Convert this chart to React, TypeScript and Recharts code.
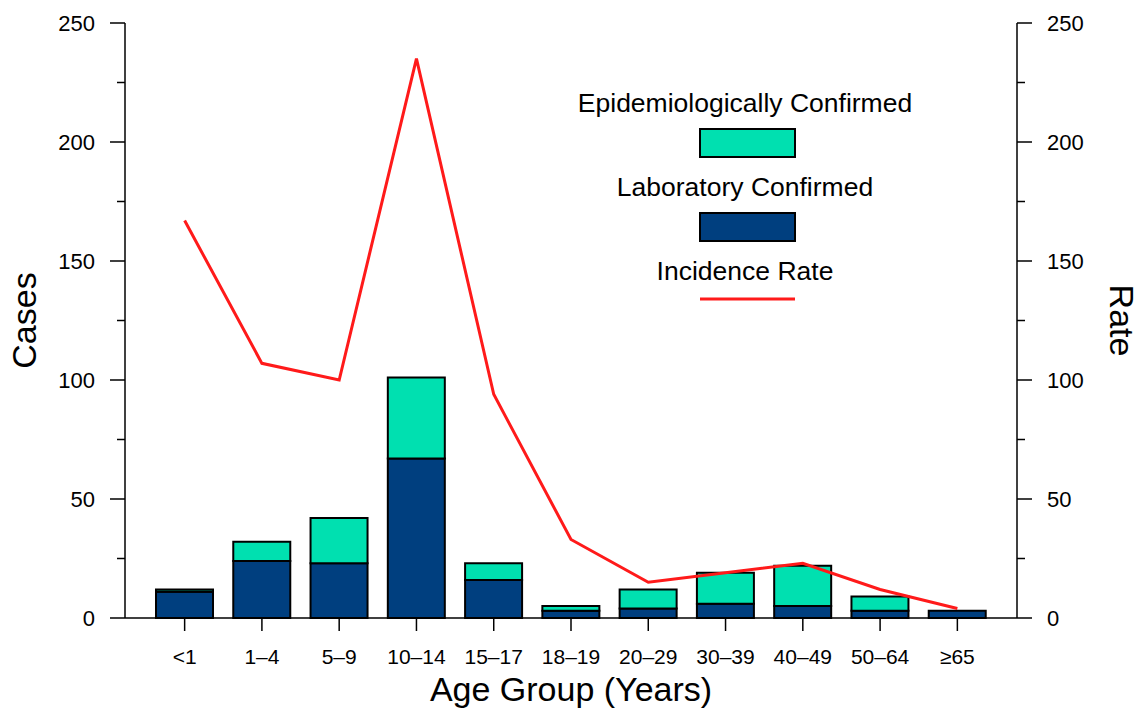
import { Bar, ComposedChart, Label, Legend, Line, XAxis, YAxis } from 'recharts';

const ageGroups = ['<1', '1–4', '5–9', '10–14', '15–17', '18–19', '20–29', '30–39', '40–49', '50–64', '≥65'];
const labConfirmed = [11, 24, 23, 67, 16, 3, 4, 6, 5, 3, 3];
const epiConfirmed = [1, 8, 19, 34, 7, 2, 8, 13, 17, 6, 0];
const incidenceRate = [167, 107, 100, 235, 94, 33, 15, 19, 23, 12, 4];
const axisTicks = [0, 25, 50, 75, 100, 125, 150, 175, 200, 225, 250];
const legendOrder = ['Epidemiologically Confirmed', 'Laboratory Confirmed', 'Incidence Rate'];

const data = ageGroups.map((group, i) => ({
  group,
  lab: labConfirmed[i],
  epi: epiConfirmed[i],
  rate: incidenceRate[i],
}));

const FONT = '"Liberation Sans", Arial, sans-serif';
const TEAL = '#00E0B0';
const NAVY = '#003F7F';
const RED = '#FF1A1A';

const LeftTick = (props: any) => {
  const { x, y, payload } = props;
  const major = payload.value % 50 === 0;
  return (
    <g>
      <line x1={x - (major ? 15 : 8)} x2={x} y1={y} y2={y} stroke="#000" strokeWidth={1.5} />
      {major && (
        <text x={x - 30} y={y} dy="0.36em" textAnchor="end" fontSize={22} fontFamily={FONT} fill="#000">
          {payload.value}
        </text>
      )}
    </g>
  );
};

const RightTick = (props: any) => {
  const { x, y, payload } = props;
  const major = payload.value % 50 === 0;
  return (
    <g>
      <line x1={x} x2={x + (major ? 15 : 8)} y1={y} y2={y} stroke="#000" strokeWidth={1.5} />
      {major && (
        <text x={x + 30} y={y} dy="0.36em" textAnchor="start" fontSize={22} fontFamily={FONT} fill="#000">
          {payload.value}
        </text>
      )}
    </g>
  );
};

const BottomTick = (props: any) => {
  const { x, y, payload } = props;
  return (
    <g>
      <line x1={x} x2={x} y1={y} y2={y + 13} stroke="#000" strokeWidth={1.5} />
      <text x={x} y={y + 38} dy="0.36em" textAnchor="middle" fontSize={21} fontFamily={FONT} fill="#000">
        {payload.value}
      </text>
    </g>
  );
};

const ChartLegend = (props: any) => {
  const items = [...(props.payload || [])].sort(
    (a: any, b: any) => legendOrder.indexOf(a.value) - legendOrder.indexOf(b.value)
  );
  return (
    <svg width={380} height={240} style={{ overflow: 'visible' }}>
      {items.map((item: any, i: number) => {
        const top = i * 84;
        const isLine = item.type === 'line';
        return (
          <g key={item.value}>
            <text x={185} y={top + 22} dy="0.36em" textAnchor="middle" fontSize={26.5} fontFamily={FONT} fill="#000">
              {item.value}
            </text>
            {isLine ? (
              <line x1={140} x2={235} y1={top + 51} y2={top + 51} stroke={item.color} strokeWidth={3} />
            ) : (
              <rect x={140} y={top + 49} width={95} height={28} fill={item.color} stroke="#000" strokeWidth={2} />
            )}
          </g>
        );
      })}
    </svg>
  );
};

export default function App() {
  return (
    <div style={{ position: 'absolute', left: 0, top: 0, width: 1140, height: 708, background: '#fff' }}>
      <ComposedChart width={1140} height={708} data={data} margin={{ top: 23, right: 0, bottom: 0, left: 0 }}>
        <XAxis
          dataKey="group"
          padding={{ left: 21, right: 21 }}
          height={90}
          interval={0}
          tickSize={0}
          tickMargin={0}
          tick={<BottomTick />}
          axisLine={{ stroke: '#000', strokeWidth: 1.5 }}
        >
          <Label
            content={({ viewBox }: any) => (
              <text
                x={viewBox.x + viewBox.width / 2}
                y={viewBox.y + 83}
                textAnchor="middle"
                fontSize={34}
                fontFamily={FONT}
                fill="#000"
              >
                Age Group (Years)
              </text>
            )}
          />
        </XAxis>
        <YAxis
          yAxisId="left"
          width={125}
          domain={[0, 250]}
          ticks={axisTicks}
          interval={0}
          tickSize={0}
          tickMargin={0}
          tick={<LeftTick />}
          axisLine={{ stroke: '#000', strokeWidth: 1.5 }}
        >
          <Label
            content={({ viewBox }: any) => {
              const cx = viewBox.x + 24;
              const cy = viewBox.y + viewBox.height / 2;
              return (
                <text
                  x={cx}
                  y={cy}
                  dy="0.36em"
                  textAnchor="middle"
                  fontSize={34}
                  fontFamily={FONT}
                  fill="#000"
                  transform={`rotate(-90 ${cx} ${cy})`}
                >
                  Cases
                </text>
              );
            }}
          />
        </YAxis>
        <YAxis
          yAxisId="right"
          orientation="right"
          width={123}
          domain={[0, 250]}
          ticks={axisTicks}
          interval={0}
          tickSize={0}
          tickMargin={0}
          tick={<RightTick />}
          axisLine={{ stroke: '#000', strokeWidth: 1.5 }}
        >
          <Label
            content={({ viewBox }: any) => {
              const cx = viewBox.x + 105;
              const cy = viewBox.y + viewBox.height / 2;
              return (
                <text
                  x={cx}
                  y={cy}
                  dy="0.36em"
                  textAnchor="middle"
                  fontSize={34}
                  fontFamily={FONT}
                  fill="#000"
                  transform={`rotate(90 ${cx} ${cy})`}
                >
                  Rate
                </text>
              );
            }}
          />
        </YAxis>
        <Legend
          layout="vertical"
          align="center"
          verticalAlign="middle"
          wrapperStyle={{ left: 560, top: 80, width: 380, height: 240 }}
          content={<ChartLegend />}
        />
        <Bar
          yAxisId="left"
          dataKey="lab"
          name="Laboratory Confirmed"
          stackId="cases"
          barSize={57}
          fill={NAVY}
          stroke="#000"
          strokeWidth={2}
          isAnimationActive={false}
        />
        <Bar
          yAxisId="left"
          dataKey="epi"
          name="Epidemiologically Confirmed"
          stackId="cases"
          barSize={57}
          fill={TEAL}
          stroke="#000"
          strokeWidth={2}
          isAnimationActive={false}
        />
        <Line
          yAxisId="right"
          type="linear"
          dataKey="rate"
          name="Incidence Rate"
          stroke={RED}
          strokeWidth={3}
          dot={false}
          legendType="line"
          isAnimationActive={false}
        />
      </ComposedChart>
    </div>
  );
}
